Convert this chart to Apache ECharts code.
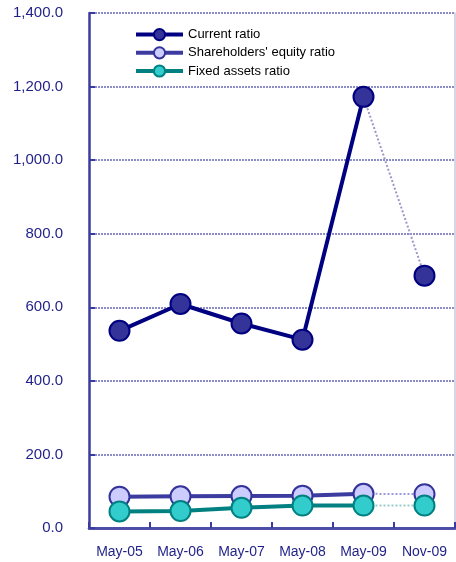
<!DOCTYPE html>
<html>
<head>
<meta charset="utf-8">
<script src="https://cdn.jsdelivr.net/npm/echarts@6/dist/echarts.min.js"></script>
<style>
html,body{margin:0;padding:0;background:#fff;}
#c{width:456px;height:562px;}
</style>
</head>
<body>
<div id="c"></div>
<script>
var categories = ['May-05','May-06','May-07','May-08','May-09','Nov-09'];
var currentRatio = [536, 609, 556, 512, 1172, 686];
var equityRatio = [85, 86, 87, 88, 93, 92];
var fixedAssetsRatio = [45, 46, 55, 61, 61, 61];
var yTicks = [0, 200, 400, 600, 800, 1000, 1200, 1400];

function fmt(v){
  var s = v.toFixed(1);
  var parts = s.split('.');
  parts[0] = parts[0].replace(/\B(?=(\d{3})+(?!\d))/g, ',');
  return parts.join('.');
}
function solidPart(arr){ return arr.map(function(v,i){ return i < arr.length-1 ? v : null; }); }
function dottedPart(arr){
  return arr.map(function(v,i){
    if (i === arr.length-2) return {value: v, symbol: 'none'};
    if (i === arr.length-1) return v;
    return null;
  });
}

var axisColor = '#3a3aa0';
var labelColor = '#1f1f88';
var font = 'Liberation Sans, Arial, sans-serif';

var styles = [
  {name:'Current ratio', data: currentRatio, line:'#000080', fill:'#333399', border:'#000080', dot:'#9999cc'},
  {name:"Shareholders' equity ratio", data: equityRatio, line:'#3b3ba0', fill:'#ccccff', border:'#333399', dot:'#9999dd'},
  {name:'Fixed assets ratio', data: fixedAssetsRatio, line:'#008080', fill:'#33cccc', border:'#008080', dot:'#99cccc'}
];

var series = [];
styles.forEach(function(s, k){
  series.push({
    name: s.name + ' (Nov)',
    type: 'line',
    data: dottedPart(s.data),
    symbol: 'circle',
    symbolSize: 20,
    z: 2 + k*2,
    silent: true,
    lineStyle: {color: s.dot, width: 2, type: 'dotted'},
    itemStyle: {color: s.fill, borderColor: s.border, borderWidth: 2},
    animation: false
  });
  series.push({
    name: s.name,
    type: 'line',
    data: solidPart(s.data),
    symbol: 'circle',
    symbolSize: 20,
    z: 3 + k*2,
    lineStyle: {color: s.line, width: 4},
    itemStyle: {color: s.fill, borderColor: s.border, borderWidth: 2},
    animation: false
  });
});

var chart = echarts.init(document.getElementById('c'), null, {renderer:'canvas'});
chart.setOption({
  animation: false,
  backgroundColor: '#fff',
  grid: {left: 89, right: 1, top: 13, bottom: 34, containLabel: false},
  legend: {
    orient: 'vertical',
    left: 134,
    top: 28,
    padding: 0,
    itemWidth: 47,
    itemHeight: 14,
    itemGap: 5,
    lineStyle: {width: 4},
    data: styles.map(function(s){
      return {name: s.name, lineStyle: {color: s.line, width: 4},
              itemStyle: {color: s.fill, borderColor: s.border, borderWidth: 2}};
    }),
    textStyle: {color: '#000', fontSize: 13, fontFamily: font}
  },
  xAxis: [{
    type: 'category',
    data: categories,
    boundaryGap: true,
    axisLine: {show: true, lineStyle: {color: axisColor, width: 2.5}},
    axisTick: {show: true, inside: true, length: 6, lineStyle: {color: axisColor, width: 2}},
    axisLabel: {color: labelColor, fontSize: 14, fontFamily: font, margin: 17},
    splitLine: {show: false}
  },{
    type: 'category',
    data: categories,
    position: 'top',
    axisLine: {show: true, lineStyle: {color: '#4b4ba8', width: 2.5}},
    axisTick: {show: false},
    axisLabel: {show: false},
    splitLine: {show: false}
  }],
  yAxis: [{
    type: 'value',
    min: 0,
    max: 1400,
    interval: 200,
    axisLine: {show: true, lineStyle: {color: axisColor, width: 2.5}},
    axisTick: {show: true, inside: true, length: 6, lineStyle: {color: axisColor, width: 2}},
    axisLabel: {color: labelColor, fontSize: 15, fontFamily: font, margin: 26,
      formatter: function(v){ return yTicks.indexOf(v) >= 0 ? fmt(v) : ''; }},
    splitLine: {show: true, lineStyle: {color: '#8c8cc8', width: 2, type: [2,1]}}
  },{
    type: 'value',
    min: 0,
    max: 1400,
    interval: 200,
    position: 'right',
    axisLine: {show: true, lineStyle: {color: '#c8c8dc', width: 1.5}},
    axisTick: {show: false},
    axisLabel: {show: false},
    splitLine: {show: false}
  }],
  series: series
});
</script>
</body>
</html>
